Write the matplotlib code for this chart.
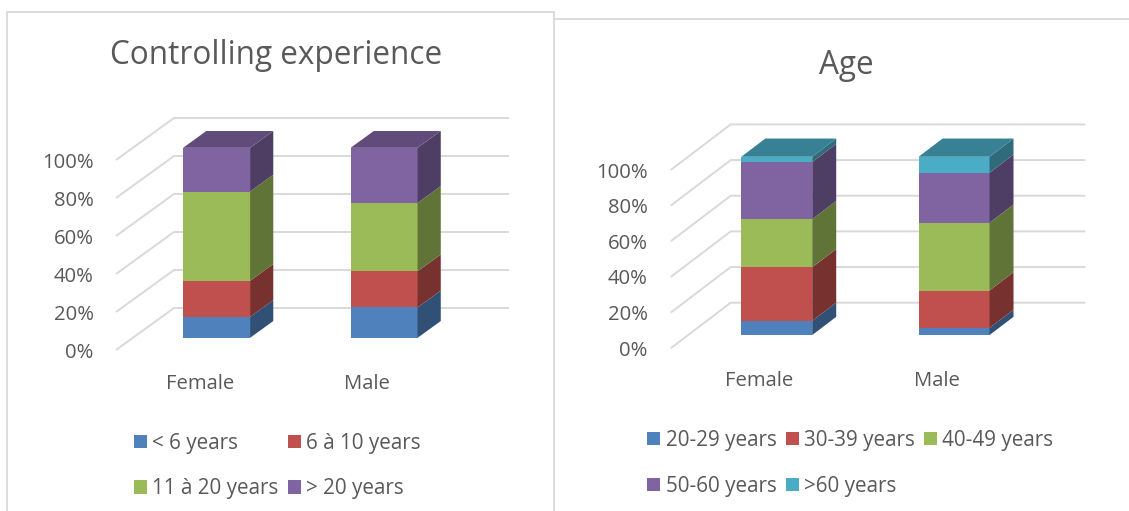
import matplotlib
matplotlib.use("Agg")
import matplotlib.pyplot as plt
from matplotlib.patches import Polygon
from matplotlib.lines import Line2D
import matplotlib.colors as mcolors

plt.rcParams['font.family'] = ['Open Sans', 'DejaVu Sans']

# ---------------- data ----------------
categories = ["Female", "Male"]

exp_title = "Controlling experience"
exp_labels = ["< 6 years", "6 à 10 years", "11 à 20 years", "> 20 years"]
exp_female = [11, 19, 47, 23]
exp_male = [16, 19, 36, 29]

age_title = "Age"
age_labels = ["20-29 years", "30-39 years", "40-49 years", "50-60 years", ">60 years"]
age_female = [8, 30, 27, 32, 3]
age_male = [4, 21, 38, 28, 9]

yticks = [0, 20, 40, 60, 80, 100]
ytick_labels = ["0%", "20%", "40%", "60%", "80%", "100%"]

colors = ['#4F81BD', '#C0504D', '#9BBB59', '#8064A2', '#4BACC6']
TEXT = '#595959'
GRID = '#D9D9D9'

W, H = 1129, 511
fig = plt.figure(figsize=(W / 100, H / 100), dpi=100)


def shade(c, f):
    r, g, b = mcolors.to_rgb(c)
    return (r * f, g * f, b * f)


def chart(rect, cats, series, labels, DX, DY, ypad, xpad):
    ax = fig.add_axes(rect)
    ax.set_facecolor('none')
    for s in ax.spines.values():
        s.set_visible(False)
    n = len(cats)
    x0, x1 = -0.5, n - 0.5
    ax.set_xlim(x0, x1 + DX)
    ax.set_ylim(0, 100 + DY)
    # floor / back wall gridlines (oblique projection)
    for t in yticks:
        ax.plot([x0, x0 + DX, x1 + DX], [t, t + DY, t + DY], color=GRID,
                lw=1.4, zorder=0, solid_capstyle='butt', clip_on=False)
    w = 0.4
    d0, d1 = 0.29, 0.69
    for i in range(n):
        vals = [s[i] for s in series]
        bottom = 0
        for j, v in enumerate(vals):
            xl = i - w / 2 + d0 * DX
            xr = xl + w
            ax.bar(i + d0 * DX, v, w, bottom=bottom + d0 * DY, color=colors[j],
                   edgecolor='none', zorder=3, label=labels[j] if i == 0 else None)
            dd = d1 - d0
            side = [(xr, bottom + d0 * DY), (xr + dd * DX, bottom + d1 * DY),
                    (xr + dd * DX, bottom + v + d1 * DY), (xr, bottom + v + d0 * DY)]
            ax.add_patch(Polygon(side, closed=True, facecolor=shade(colors[j], 0.62),
                                 edgecolor='none', zorder=3, clip_on=False))
            bottom += v
            if j == len(vals) - 1:
                top = [(xl, bottom + d0 * DY), (xr, bottom + d0 * DY),
                       (xr + dd * DX, bottom + d1 * DY), (xl + dd * DX, bottom + d1 * DY)]
                ax.add_patch(Polygon(top, closed=True, facecolor=shade(colors[j], 0.75),
                                     edgecolor='none', zorder=3, clip_on=False))
    ax.set_yticks(yticks)
    ax.set_yticklabels(ytick_labels)
    ax.set_xticks(range(n))
    ax.set_xticklabels(cats)
    ax.tick_params(axis='y', length=0, pad=ypad, labelsize=14.6, labelcolor=TEXT)
    ax.tick_params(axis='x', length=0, pad=xpad, labelsize=14.6, labelcolor=TEXT)
    return ax


def frac_rect(left_px, bottom_px, width_px, height_px):
    return [left_px / W, 1 - bottom_px / H, width_px / W, height_px / H]


# Left chart geometry (pixels)
lx_scale, ly_scale = 167.5, 1.9
ldx, ldy = 58 / lx_scale, 42 / ly_scale
axL = chart(frac_rect(116, 350, (2 + ldx) * lx_scale, (100 + ldy) * ly_scale),
            categories, [[exp_female[k], exp_male[k]] for k in range(4)],
            exp_labels, ldx, ldy, ypad=16, xpad=17.5)

rx_scale, ry_scale = 177.3, 1.783
rdx, rdy = 60 / rx_scale, 45.6 / ry_scale
axR = chart(frac_rect(670.7, 348.3, (2 + rdx) * rx_scale, (100 + rdy) * ry_scale),
            categories, [[age_female[k], age_male[k]] for k in range(5)],
            age_labels, rdx, rdy, ypad=16.5, xpad=16.5)

# Titles
fig.text(276 / W, 1 - 63.5 / H, exp_title, ha='center', va='baseline',
         fontsize=22.7, color=TEXT)
fig.text(846.7 / W, 1 - 73.5 / H, age_title, ha='center', va='baseline',
         fontsize=22.7, color=TEXT)

# Legends (row-major order)
leg_kw = dict(frameon=False, borderpad=0, borderaxespad=0, fontsize=14.9,
              handlelength=0.63, handleheight=0.6, handletextpad=0.25,
              columnspacing=0.45, labelspacing=1.2, labelcolor=TEXT,
              loc='upper left')
hL, lL = axL.get_legend_handles_labels()
orderL = [0, 2, 1, 3]
fig.legend([hL[k] for k in orderL], [lL[k] for k in orderL], ncol=2,
           bbox_to_anchor=(134 / W, 1 - 432.5 / H), **leg_kw)

hR, lR = axR.get_legend_handles_labels()
orderR = [0, 3, 1, 4, 2]
fig.legend([hR[k] for k in orderR], [lR[k] for k in orderR], ncol=3,
           bbox_to_anchor=(647.3 / W, 1 - 430 / H), **leg_kw)

# Chart area borders
border_kw = dict(color=GRID, lw=1.3, transform=fig.transFigure)
fig.add_artist(Line2D([7 / W, 7 / W], [0, 1 - 11.7 / H], **border_kw))
fig.add_artist(Line2D([7 / W, 554 / W], [1 - 11.7 / H, 1 - 11.7 / H], **border_kw))
fig.add_artist(Line2D([554 / W, 554 / W], [0, 1 - 11.7 / H], **border_kw))
fig.add_artist(Line2D([554 / W, 1], [1 - 19 / H, 1 - 19 / H], **border_kw))

fig.savefig("out.png", dpi=100)
